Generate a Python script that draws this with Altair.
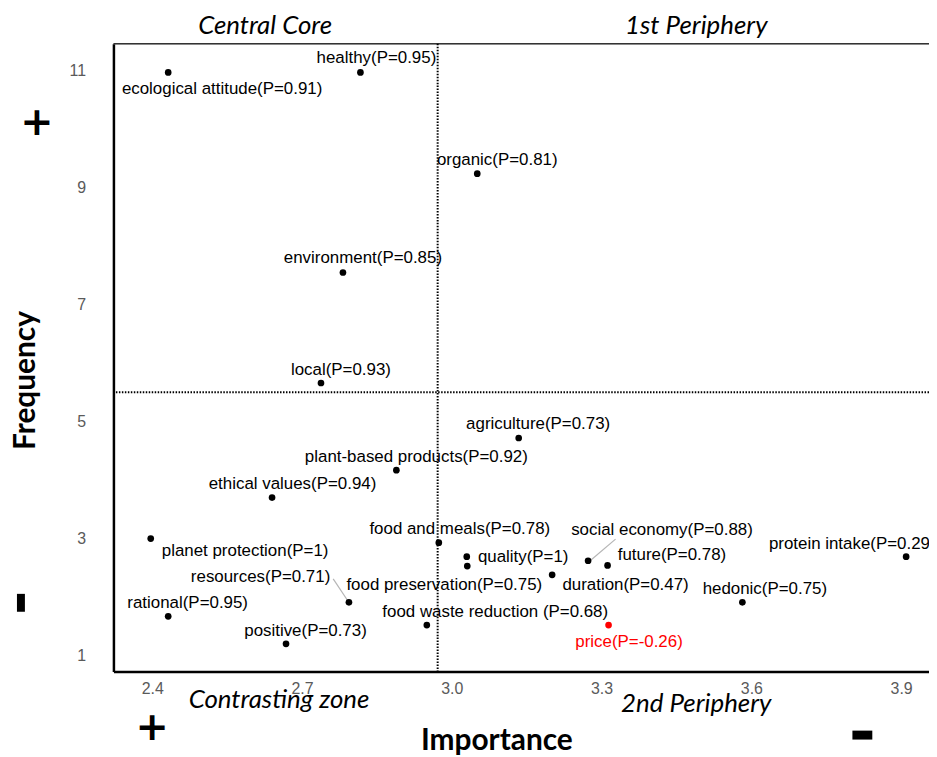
import altair as alt
import pandas as pd

# ---------------- data ----------------
terms = [
    "ecological attitude(P=0.91)", "healthy(P=0.95)", "organic(P=0.81)",
    "environment(P=0.85)", "local(P=0.93)", "agriculture(P=0.73)",
    "plant-based products(P=0.92)", "ethical values(P=0.94)",
    "planet protection(P=1)", "food and meals(P=0.78)", "quality(P=1)",
    "food preservation(P=0.75)", "social economy(P=0.88)", "future(P=0.78)",
    "duration(P=0.47)", "protein intake(P=0.29)", "hedonic(P=0.75)",
    "resources(P=0.71)", "rational(P=0.95)", "food waste reduction (P=0.68)",
    "price(P=-0.26)", "positive(P=0.73)",
]
importance = [2.432, 2.817, 3.051, 2.782, 2.738, 3.134, 2.889, 2.640, 2.397,
              2.974, 3.030, 3.031, 3.273, 3.312, 3.201, 3.910, 3.582, 2.794,
              2.432, 2.950, 3.314, 2.668]
frequency = [10.97, 10.97, 9.24, 7.55, 5.66, 4.72, 4.17, 3.70, 3.00, 2.93,
             2.69, 2.53, 2.62, 2.54, 2.38, 2.69, 1.91, 1.91, 1.67, 1.52,
             1.52, 1.20]
# repelled label anchors (data units)
label_x = [2.540, 2.849, 3.091, 2.822, 2.778, 3.173, 2.929, 2.681, 2.586,
           3.016, 3.143, 2.985, 3.421, 3.441, 3.348, 3.802, 3.627, 2.617,
           2.471, 3.087, 3.355, 2.707]
label_y = [10.69, 11.22, 9.48, 7.79, 5.89, 4.95, 4.40, 3.94, 2.79, 3.16,
           2.68, 2.20, 3.14, 2.71, 2.20, 2.91, 2.14, 2.34, 1.90, 1.74,
           1.23, 1.42]

# leader segments (resources, social economy)
seg_x = [2.7625, 3.277]
seg_y = [2.31, 2.62]
seg_x2 = [2.794, 3.328]
seg_y2 = [1.906, 2.99]

cut_importance = 2.9717
cut_frequency = 5.502

x_ticks = [2.4, 2.7, 3.0, 3.3, 3.6, 3.9]
y_ticks = [1, 3, 5, 7, 9, 11]
X_DOMAIN = [2.3223, 3.9558]
Y_DOMAIN = [0.7279, 11.4592]

W, H = 820, 631

df = pd.DataFrame({
    "term": terms, "importance": importance, "frequency": frequency,
    "label_x": label_x, "label_y": label_y,
})
df["group"] = ["price" if t.startswith("price") else "other" for t in terms]

xaxis = alt.Axis(values=x_ticks, format=".1f", title="Importance", ticks=False,
                 grid=False, domainColor="black", domainWidth=2.5,
                 labelFont="Liberation Sans", labelFontSize=16,
                 labelColor="#5a5a5a", labelPadding=9,
                 titleFont="Lato", titleFontSize=30, titleFontWeight="bold",
                 titleColor="black", titleX=385, titleY=69,
                 titleBaseline="middle")
yaxis = alt.Axis(values=y_ticks, format="d", title="Frequency", ticks=False,
                 grid=False, domainColor="black", domainWidth=2.5,
                 labelFont="Liberation Sans", labelFontSize=16,
                 labelColor="#5a5a5a", labelPadding=28,
                 titleFont="Lato", titleFontSize=30, titleFontWeight="bold",
                 titleColor="black", titleX=-88, titleY=338,
                 titleBaseline="middle")


def X(field):
    return alt.X(f"{field}:Q", scale=alt.Scale(domain=X_DOMAIN, nice=False, zero=False),
                 axis=xaxis, title="Importance")


def Y(field):
    return alt.Y(f"{field}:Q", scale=alt.Scale(domain=Y_DOMAIN, nice=False, zero=False),
                 axis=yaxis, title="Frequency")


color = alt.Color("group:N", scale=alt.Scale(domain=["other", "price"],
                                             range=["black", "#ff0000"]),
                  legend=None)

top_border = alt.Chart(pd.DataFrame({"a": [0]})).mark_rule(
    color="#333333", strokeWidth=1.5).encode(
    x=alt.value(0), x2=alt.value(W), y=alt.value(0))

vline = alt.Chart(pd.DataFrame({"x": [cut_importance]})).mark_rule(
    color="black", strokeWidth=2, strokeDash=[1.5, 1.5]).encode(x=X("x"))
hline = alt.Chart(pd.DataFrame({"y": [cut_frequency]})).mark_rule(
    color="black", strokeWidth=2, strokeDash=[1.5, 1.5]).encode(y=Y("y"))

leaders = alt.Chart(pd.DataFrame({"x": seg_x, "y": seg_y, "x2": seg_x2, "y2": seg_y2})).mark_rule(
    color="#b5b5b5", strokeWidth=1.2).encode(
    x=X("x"), y=Y("y"), x2="x2:Q", y2="y2:Q")

points = alt.Chart(df).mark_circle(size=45, opacity=1).encode(
    x=X("importance"), y=Y("frequency"), color=color)

labels = alt.Chart(df).mark_text(
    font="Liberation Sans", fontSize=17, align="center", baseline="middle",
    clip=True).encode(
    x=X("label_x"), y=Y("label_y"), text="term:N", color=color)


def note(text, px, py, **kw):
    return alt.Chart(pd.DataFrame({"t": [text]})).mark_text(**kw).encode(
        x=alt.value(px), y=alt.value(py), text="t:N")


quad_style = dict(font="Lato", fontSize=26, fontStyle="italic", color="black",
                  align="center", baseline="middle")
notes = [
    note("Central Core", 152.5, -17.5, **quad_style),
    note("1st Periphery", 586, -17.5, **quad_style),
    note("Contrasting zone", 166.5, 660, **quad_style),
    note("2nd Periphery", 586, 664, **quad_style),
    note("+", -77, 80, font="DejaVu Sans", fontSize=40, fontWeight="bold",
         color="black", align="center", baseline="middle"),
    note("+", 39, 688, font="DejaVu Sans", fontSize=40, fontWeight="bold",
         color="black", align="center", baseline="middle"),
]

minus_v = alt.Chart(pd.DataFrame({"a": [0]})).mark_rule(
    color="black", strokeWidth=8).encode(
    x=alt.value(-93), y=alt.value(553), y2=alt.value(571))
minus_h = alt.Chart(pd.DataFrame({"a": [0]})).mark_rule(
    color="black", strokeWidth=9).encode(
    x=alt.value(743), x2=alt.value(763), y=alt.value(695))

chart = alt.layer(
    top_border, vline, hline, leaders, points, labels, *notes, minus_v, minus_h
).properties(
    width=W, height=H,
    autosize=alt.AutoSizeParams(type="none"),
    padding={"left": 106, "top": 34, "right": 0, "bottom": 86},
).configure_view(stroke=None).configure(background="white")

chart.save("out.html", embed_options={"renderer": "svg", "actions": False})
